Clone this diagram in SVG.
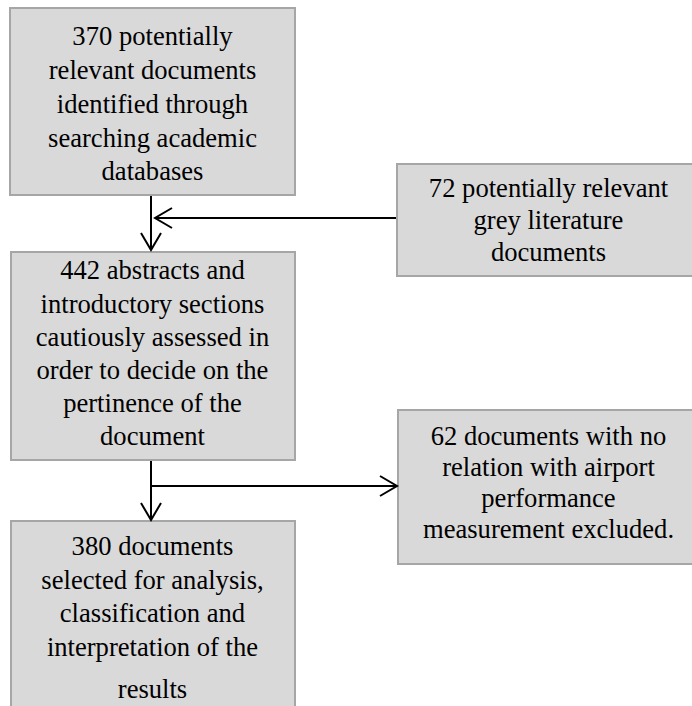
<svg xmlns="http://www.w3.org/2000/svg" width="692" height="706" viewBox="0 0 692 706">
<style>
.box{fill:#d9d9d9;stroke:#a6a6a6;stroke-width:2}
.t{font-family:"Liberation Serif","Times New Roman",serif;font-size:26.6px;fill:#000;text-anchor:middle}
.c{stroke:#000;stroke-width:2;fill:none}
</style>
<defs>
<marker id="arr" viewBox="-20 -12 24 24" refX="0" refY="0" markerWidth="24" markerHeight="24" markerUnits="userSpaceOnUse" orient="auto">
<path d="M-17,-10 L0,0 L-17,10" fill="none" stroke="#000" stroke-width="2"/>
</marker>
</defs>
<rect width="692" height="706" fill="#fff"/>
<g id="n1">
<rect class="box" x="10" y="8" width="285" height="187"/>
<text class="t" x="152.5" y="45">370 potentially</text>
<text class="t" x="152.5" y="79">relevant documents</text>
<text class="t" x="152.5" y="113">identified through</text>
<text class="t" x="152.5" y="147">searching academic</text>
<text class="t" x="152.5" y="180">databases</text>
</g>
<g id="n2">
<rect class="box" x="397" y="164" width="304" height="112"/>
<text class="t" x="548.5" y="197">72 potentially relevant</text>
<text class="t" x="548.5" y="229">grey literature</text>
<text class="t" x="548.5" y="261">documents</text>
</g>
<g id="n3">
<rect class="box" x="11" y="252" width="284" height="208"/>
<text class="t" x="152.5" y="279">442 abstracts and</text>
<text class="t" x="152.5" y="312.5">introductory sections</text>
<text class="t" x="152.5" y="346">cautiously assessed in</text>
<text class="t" x="152.5" y="379">order to decide on the</text>
<text class="t" x="152.5" y="412">pertinence of the</text>
<text class="t" x="152.5" y="445">document</text>
</g>
<g id="n4">
<rect class="box" x="398" y="410" width="303" height="154"/>
<text class="t" x="548.5" y="445">62 documents with no</text>
<text class="t" x="548.5" y="476">relation with airport</text>
<text class="t" x="548.5" y="507">performance</text>
<text class="t" x="548.5" y="538">measurement excluded.</text>
</g>
<g id="n5">
<rect class="box" x="11" y="521" width="284" height="200"/>
<text class="t" x="152.5" y="555">380 documents</text>
<text class="t" x="152.5" y="589">selected for analysis,</text>
<text class="t" x="152.5" y="622">classification and</text>
<text class="t" x="152.5" y="656">interpretation of the</text>
<text class="t" x="152.5" y="698">results</text>
</g>
<g id="connectors">
<line class="c" x1="151" y1="196" x2="151" y2="250" marker-end="url(#arr)"/>
<line class="c" x1="396" y1="218" x2="155" y2="218" marker-end="url(#arr)"/>
<line class="c" x1="151" y1="461" x2="151" y2="520" marker-end="url(#arr)"/>
<line class="c" x1="152" y1="486" x2="397" y2="486" marker-end="url(#arr)"/>
</g>
</svg>
